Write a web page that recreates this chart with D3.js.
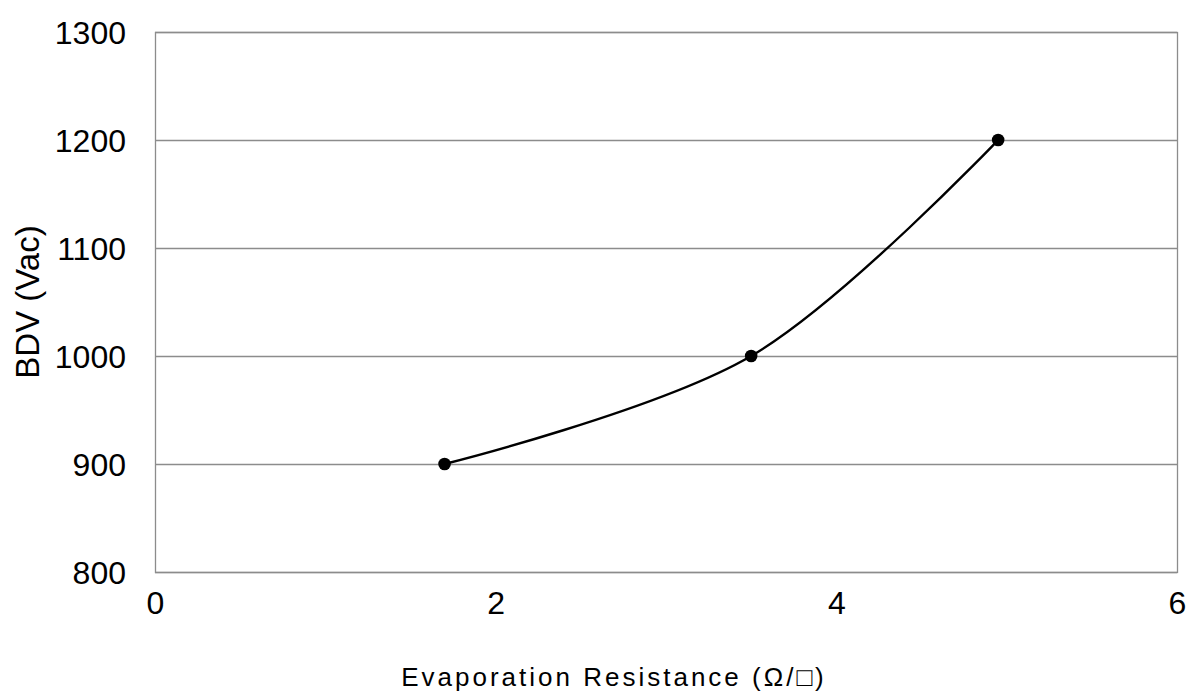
<!DOCTYPE html>
<html>
<head>
<meta charset="utf-8">
<script src="https://cdn.jsdelivr.net/npm/d3@7"></script>
<style>
  body { margin: 0; background: #fff; }
  text { font-family: "Liberation Sans", Arial, sans-serif; fill: #000; }
</style>
</head>
<body>
<script>
// data
var resistance = [1.7, 3.5, 4.95];
var bdv = [900, 1000, 1200];
var xTicks = [0, 2, 4, 6];
var yTicks = [800, 900, 1000, 1100, 1200, 1300];

var data = resistance.map(function(r, i) { return {x: r, y: bdv[i]}; });

var W = 1191, H = 693;
var margin = {top: 32, right: 14, bottom: 121, left: 155};
var width = W - margin.left - margin.right,
    height = H - margin.top - margin.bottom;

var svg = d3.select("body").append("svg")
    .attr("width", W)
    .attr("height", H);

var g = svg.append("g")
    .attr("transform", "translate(" + margin.left + "," + margin.top + ")");

var x = d3.scaleLinear().domain([0, 6]).range([0, width]);
var y = d3.scaleLinear().domain([800, 1300]).range([height, 0]);

// gridlines
g.selectAll(".grid")
    .data(yTicks)
    .enter().append("line")
    .attr("x1", 0).attr("x2", width)
    .attr("y1", function(d) { return Math.round(y(d)) + 0.5; })
    .attr("y2", function(d) { return Math.round(y(d)) + 0.5; })
    .attr("stroke", "#8c8c8c")
    .attr("stroke-width", 1.3);

// frame
g.append("rect")
    .attr("x", 0.5).attr("y", 0.5)
    .attr("width", width).attr("height", height)
    .attr("fill", "none")
    .attr("stroke", "#8c8c8c")
    .attr("stroke-width", 1.3);

// y axis
var yAxis = g.append("g")
    .call(d3.axisLeft(y).tickValues(yTicks).tickFormat(d3.format("d")).tickSize(0).tickPadding(29));
yAxis.select(".domain").remove();
yAxis.selectAll("text")
    .style("font-size", "32px")
    .attr("dy", "0.35em");

// x axis
var xAxis = g.append("g")
    .attr("transform", "translate(0," + height + ")")
    .call(d3.axisBottom(x).tickValues(xTicks).tickFormat(d3.format("d")).tickSize(0).tickPadding(19));
xAxis.select(".domain").remove();
xAxis.selectAll("text")
    .style("font-size", "32px")
    .attr("dy", "0.71em");

// line
var line = d3.line()
    .x(function(d) { return x(d.x); })
    .y(function(d) { return y(d.y); })
    .curve(d3.curveCardinal.tension(0));

g.append("path")
    .datum(data)
    .attr("d", line)
    .attr("fill", "none")
    .attr("stroke", "#000")
    .attr("stroke-width", 2.4);

g.selectAll(".dot")
    .data(data)
    .enter().append("circle")
    .attr("cx", function(d) { return x(d.x); })
    .attr("cy", function(d) { return y(d.y); })
    .attr("r", 6.3)
    .attr("fill", "#000");

// axis titles
svg.append("text")
    .attr("x", 614)
    .attr("y", 686)
    .attr("text-anchor", "middle")
    .style("font-size", "26px")
    .style("letter-spacing", "3px")
    .text("Evaporation Resistance (Ω/□)");

svg.append("text")
    .attr("transform", "translate(39,302) rotate(-90)")
    .attr("text-anchor", "middle")
    .style("font-size", "33px")
    .text("BDV (Vac)");
</script>
</body>
</html>
